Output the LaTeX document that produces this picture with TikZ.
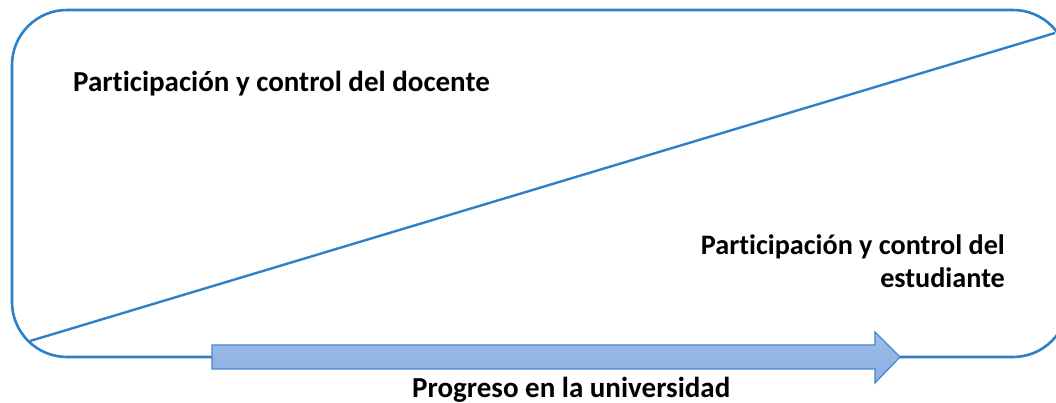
\documentclass[tikz,border=0pt]{standalone}
\usepackage{fontspec}
\setmainfont[Ligatures=NoCommon]{Carlito}
\definecolor{frameblue}{RGB}{46,128,200}
\definecolor{arrowtop}{RGB}{160,190,232}
\definecolor{arrowbot}{RGB}{138,174,224}
\definecolor{arrowline}{RGB}{66,136,202}
\begin{document}
\begin{tikzpicture}[x=1pt,y=1pt,
  frame/.style={draw=frameblue,line width=2.6pt},
  lbl/.style={font=\fontsize{29}{33}\selectfont\bfseries,inner sep=0pt},
  lblr/.style={font=\fontsize{28.2}{33}\selectfont\bfseries,inner sep=0pt},
  progarrow/.style={draw=arrowline,line width=1.2pt,top color=arrowtop,bottom color=arrowbot}]
\useasboundingbox (0,0) rectangle (1056,403);
\clip (0,0) rectangle (1056,403);
\draw[frame,rounded corners=55pt] (12,46) rectangle (1068,393);
\coordinate (dstart) at (30,62);
\coordinate (dend) at (1055,370);
\draw[frame,line width=2.4pt] (dstart) -- (dend);
\draw[progarrow] (212,58) -- (875,58) -- (875,71) -- (900,46) -- (875,20) -- (875,34) -- (212,34) -- cycle;
\node[lbl,anchor=base west] (docente) at (73,311) {Participación y control del docente};
\node[lblr,anchor=base east] (est1) at (1005,148) {Participación y control del};
\node[lblr,anchor=base east] (est2) at (1005,115) {estudiante};
\node[lbl,anchor=base west] (prog) at (412,5) {Progreso en la universidad};
\end{tikzpicture}
\end{document}
